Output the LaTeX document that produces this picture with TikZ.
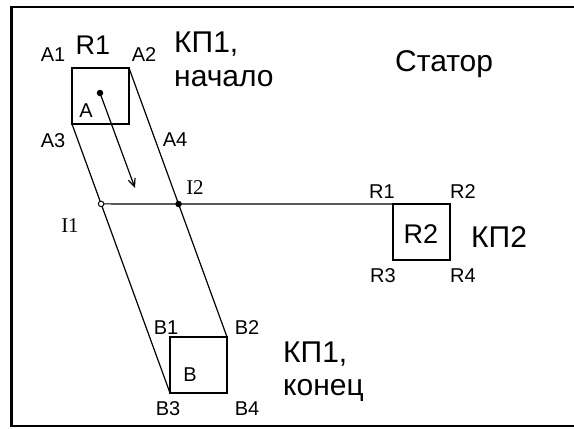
\documentclass[tikz,border=0pt]{standalone}
\usepackage{fontspec}
\setmainfont{Liberation Sans}
\newfontfamily\serifI{Liberation Serif}
\usetikzlibrary{arrows.meta,calc}
\begin{document}
\begin{tikzpicture}[x=1pt,y=-1pt,
  box/.style={draw, line width=2.8pt, minimum width=57pt, minimum height=56pt,
              inner sep=0pt, outer sep=0pt, anchor=north west},
  thinline/.style={line width=1.2pt},
  lbl/.style={inner sep=0pt, font=\fontsize{20}{22}\selectfont},
  ilbl/.style={inner sep=0pt, font=\serifI\fontsize{21}{22}\selectfont},
  mid/.style={inner sep=0pt, font=\fontsize{27}{30}\selectfont},
  big/.style={inner sep=0pt, font=\fontsize{30}{34}\selectfont, anchor=base west},
  fulldot/.style={circle, fill, inner sep=0pt, minimum size=6.5pt},
  opendot/.style={circle, draw, fill=white, line width=1pt, inner sep=0pt, minimum size=5.5pt}]
\useasboundingbox (0,0) rectangle (574,429);
% frame
\draw[line width=2.8pt] (574,7) -- (11.5,7) -- (11.5,426) -- (574,426);
% boxes
\node[box] (boxA) at (72,68) {};
\node[box] (boxB) at (170,337) {};
\node[box] (boxR) at (393,204) {};
% intersections
\coordinate (I1) at ($(boxA.south west)!0.297!(boxB.south west)$);
\coordinate (I2) at ($(boxA.north east)!0.5056!(boxB.north east)$);
% connectors
\draw[thinline] (boxA.south west) -- (boxB.south west);
\draw[thinline] (boxA.north east) -- (boxB.north east);
\draw[thinline] (I1) -- (boxR.north west);
\node[opendot] (i1) at (I1) {};
\node[fulldot] (i2) at (I2) {};
% arrow in A
\node[fulldot] (dotA) at (100,93) {};
\coordinate (arrEnd) at (135,188);
\draw[thinline, -{Straight Barb[length=8pt,width=7pt,line width=1.2pt]}] (dotA.center) -- (arrEnd);
% labels of box A
\node[lbl] (lA1) at (53,55) {A1};
\node[mid] (lR1) at (93,45) {R1};
\node[lbl] (lA2) at (144,55) {A2};
\node[lbl] (lA3) at (53,141) {A3};
\node[lbl] (lA4) at (175,140) {A4};
\node[lbl] (lA) at (86,111) {A};
% intersection labels
\node[ilbl] (lI1) at (70,226) {I1};
\node[ilbl] (lI2) at (195,188) {I2};
% labels of box B
\node[lbl] (lB1) at (166,328) {B1};
\node[lbl] (lB2) at (247,328) {B2};
\node[lbl] (lB3) at (168,409) {B3};
\node[lbl] (lB4) at (247,409) {B4};
\node[lbl] (lB) at (190,375) {B};
% labels of box R2
\node[lbl] (lR1s) at (382,192) {R1};
\node[lbl] (lR2s) at (463,192) {R2};
\node[lbl] (lR3s) at (383,276) {R3};
\node[lbl] (lR4s) at (463,276) {R4};
\node[mid] (lR2) at (421,234) {R2};
% big texts
\node[big] (kpa) at (174,52) {КП1,};
\node[big] (nach) at (174,86) {начало};
\node[big] (stator) at (395,71) {Статор};
\node[big] (kp2) at (471,247) {КП2};
\node[big] (kpb) at (283,362) {КП1,};
\node[big] (kon) at (283,395) {конец};
\end{tikzpicture}
\end{document}
